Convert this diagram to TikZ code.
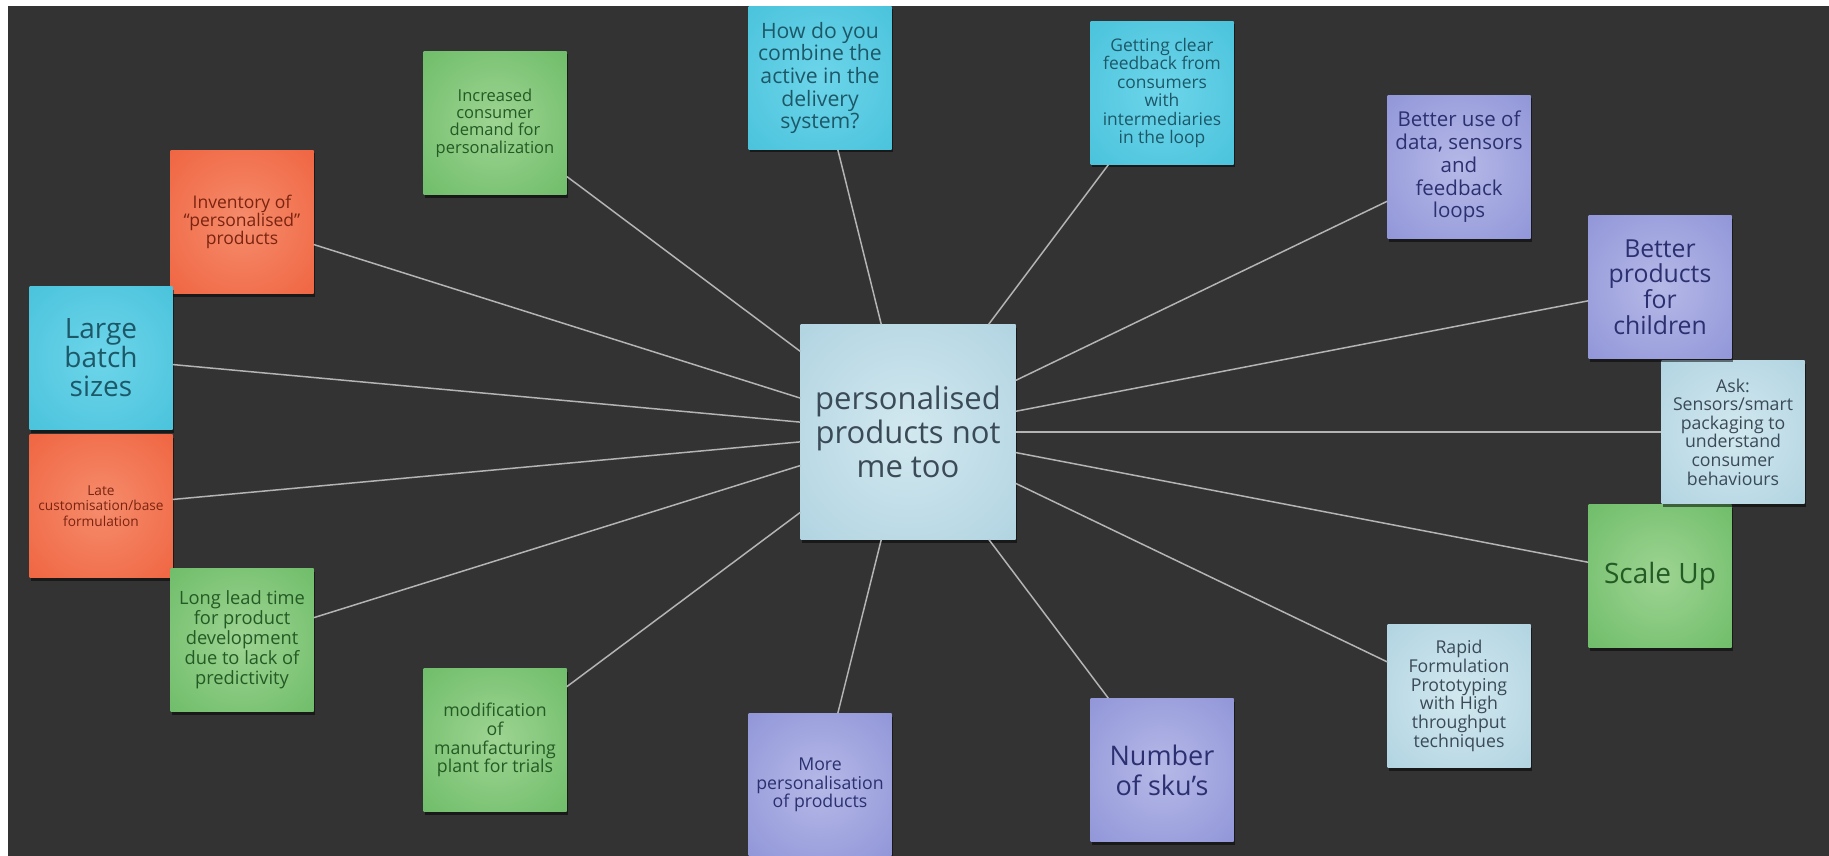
\documentclass[tikz,border=0pt]{standalone}
\usepackage{fontspec}
\setmainfont{Open Sans}
\usetikzlibrary{shadows}
\definecolor{bg}{HTML}{333333}
\definecolor{linec}{HTML}{B4B4B4}
\definecolor{cyanout}{HTML}{3CBCD6}
\definecolor{cyanin}{HTML}{6DD5EA}
\definecolor{cyantx}{HTML}{1D5868}
\definecolor{orout}{HTML}{EE5631}
\definecolor{orin}{HTML}{F58C6C}
\definecolor{ortx}{HTML}{7A2410}
\definecolor{grout}{HTML}{5CB45A}
\definecolor{grin}{HTML}{9ED492}
\definecolor{grtx}{HTML}{245A24}
\definecolor{puout}{HTML}{8388D3}
\definecolor{puin}{HTML}{B5B9E7}
\definecolor{putx}{HTML}{2C3070}
\definecolor{lbout}{HTML}{A4CCDC}
\definecolor{lbin}{HTML}{D2E8EF}
\definecolor{lbtx}{HTML}{3A4A56}
\pgfdeclareradialshading{cyansh}{\pgfpoint{0bp}{0bp}}{color(0bp)=(cyanin); color(50bp)=(cyanout); color(75bp)=(cyanout)}
\pgfdeclareradialshading{orsh}{\pgfpoint{0bp}{0bp}}{color(0bp)=(orin); color(50bp)=(orout); color(75bp)=(orout)}
\pgfdeclareradialshading{grsh}{\pgfpoint{0bp}{0bp}}{color(0bp)=(grin); color(50bp)=(grout); color(75bp)=(grout)}
\pgfdeclareradialshading{push}{\pgfpoint{0bp}{0bp}}{color(0bp)=(puin); color(50bp)=(puout); color(75bp)=(puout)}
\pgfdeclareradialshading{lbsh}{\pgfpoint{0bp}{0bp}}{color(0bp)=(lbin); color(50bp)=(lbout); color(75bp)=(lbout)}
\newcommand\myfs[2]{\fontsize{#1}{#2}\selectfont}
\begin{document}
\begin{tikzpicture}[x=1pt,y=-1pt,
  box/.style={rectangle, minimum width=143pt, minimum height=143pt, inner sep=0pt, align=center,
    drop shadow={shadow xshift=1.5pt, shadow yshift=-3pt, opacity=0.5, fill=black}},
  cyanbox/.style={box, shading=cyansh, text=cyantx},
  orbox/.style={box, shading=orsh, text=ortx},
  grbox/.style={box, shading=grsh, text=grtx},
  pubox/.style={box, shading=push, text=putx},
  lbbox/.style={box, shading=lbsh, text=lbtx},
  link/.style={draw=linec, line width=1.5pt}]
\useasboundingbox (0,0) rectangle (1829,856);
\fill[white] (0,0) rectangle (1829,856);
\fill[bg] (8,6) rectangle (1829,856);

\node[lbbox, minimum width=215pt, minimum height=215pt, font=\myfs{31}{34}] (c) at (908,432) {personalised\\products not\\me too};

\node[grbox, font=\myfs{16.5}{17.2}] (inc) at (495,123) {Increased\\consumer\\demand for\\personalization};
\node[orbox, font=\myfs{17.5}{18}] (inv) at (242,222) {Inventory of\\``personalised''\\products};
\node[cyanbox, font=\myfs{28}{29}] (large) at (101,358) {Large\\batch\\sizes};
\node[orbox, font=\myfs{13.7}{15.5}] (late) at (101,506) {Late\\customisation/base\\formulation};
\node[grbox, font=\myfs{18.3}{20}] (long) at (242,640) {Long lead time\\for product\\development\\due to lack of\\predictivity};
\node[grbox, font=\myfs{17.7}{18.7}] (modif) at (495,740) {modification\\of\\manufacturing\\plant for trials};
\node[pubox, font=\myfs{17.7}{18.5}] (more) at (820,785) {More\\personalisation\\of products};
\node[pubox, font=\myfs{27}{30}] (num) at (1162,770) {Number\\of sku's};
\node[lbbox, font=\myfs{17.7}{18.7}] (rapid) at (1459,696) {Rapid\\Formulation\\Prototyping\\with High\\throughput\\techniques};
\node[grbox, font=\myfs{28}{30}] (scale) at (1660,576) {Scale Up};
\node[lbbox, font=\myfs{17.7}{18.6}] (ask) at (1733,432) {Ask:\\Sensors/smart\\packaging to\\understand\\consumer\\behaviours};
\node[pubox, font=\myfs{24.8}{25.7}] (child) at (1660,287) {Better\\products\\for\\children};
\node[pubox, font=\myfs{20.5}{22.7}] (data) at (1459,167) {Better use of\\data, sensors\\and\\feedback\\loops};
\node[cyanbox, font=\myfs{17.4}{18.5}] (clear) at (1162,93) {Getting clear\\feedback from\\consumers\\with\\intermediaries\\in the loop};
\node[cyanbox, font=\myfs{21.2}{22.7}] (how) at (820,78) {How do you\\combine the\\active in the\\delivery\\system?};

\foreach \n in {inc,inv,large,late,long,modif,more,num,rapid,scale,ask,child,data,clear,how}
  \draw[link] (c) -- (\n);
\end{tikzpicture}
\end{document}
